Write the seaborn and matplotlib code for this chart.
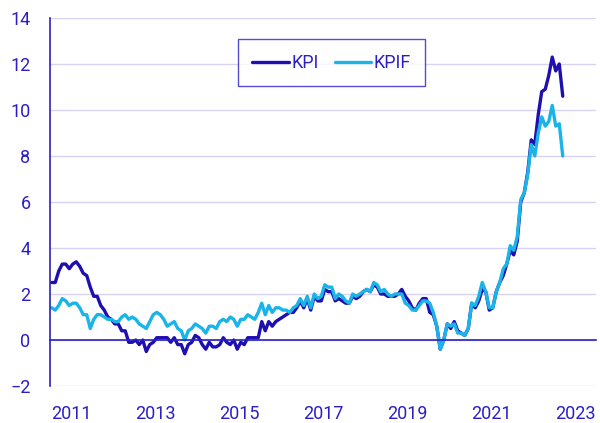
import numpy as np
import pandas as pd
import seaborn as sns
import matplotlib.pyplot as plt
from matplotlib.ticker import FixedLocator

sns.set_style('white')
plt.rcParams['font.family'] = ['Roboto', 'DejaVu Sans']

# Monthly annual change (%), Jan 2011 - Mar 2023
kpi = [2.5, 2.5, 3.0, 3.3, 3.3, 3.1, 3.3, 3.4, 3.2, 2.9, 2.8, 2.3,
       1.9, 1.9, 1.5, 1.3, 1.0, 0.9, 0.7, 0.7, 0.4, 0.4, -0.1, -0.1,
       0.0, -0.2, 0.0, -0.5, -0.2, -0.1, 0.1, 0.1, 0.1, 0.1, -0.1, 0.1,
       -0.2, -0.2, -0.6, -0.2, -0.1, 0.2, 0.1, -0.2, -0.4, -0.1, -0.3, -0.3,
       -0.2, 0.1, -0.1, -0.2, 0.0, -0.4, -0.1, -0.2, 0.1, 0.1, 0.1, 0.1,
       0.8, 0.4, 0.8, 0.6, 0.8, 0.9, 1.0, 1.1, 1.2, 1.2, 1.4, 1.7,
       1.4, 1.8, 1.3, 1.9, 1.7, 1.7, 2.2, 2.1, 2.1, 1.7, 1.8, 1.7,
       1.6, 1.6, 1.9, 1.8, 1.9, 2.1, 2.2, 2.1, 2.4, 2.3, 2.0, 2.0,
       1.9, 1.9, 1.9, 2.0, 2.2, 1.9, 1.7, 1.4, 1.3, 1.6, 1.8, 1.8,
       1.2, 1.1, 0.6, -0.4, 0.0, 0.7, 0.5, 0.8, 0.4, 0.3, 0.2, 0.5,
       1.6, 1.4, 1.7, 2.2, 2.1, 1.3, 1.4, 2.1, 2.5, 2.8, 3.3, 3.9,
       3.7, 4.3, 6.0, 6.4, 7.3, 8.7, 8.5, 9.8, 10.8, 10.9, 11.5, 12.3,
       11.7, 12.0, 10.6]

kpif = [1.4, 1.3, 1.5, 1.8, 1.7, 1.5, 1.6, 1.6, 1.4, 1.1, 1.1, 0.5,
        0.9, 1.1, 1.1, 1.0, 0.9, 0.9, 0.8, 0.8, 1.0, 1.1, 0.9, 1.0,
        0.9, 0.7, 0.6, 0.5, 0.8, 1.1, 1.2, 1.1, 0.9, 0.6, 0.7, 0.8,
        0.5, 0.4, 0.0, 0.4, 0.5, 0.7, 0.6, 0.5, 0.3, 0.6, 0.6, 0.5,
        0.8, 0.9, 0.8, 1.0, 0.9, 0.6, 0.9, 0.9, 1.1, 1.0, 0.9, 1.2,
        1.6, 1.1, 1.5, 1.2, 1.4, 1.4, 1.3, 1.3, 1.2, 1.4, 1.5, 1.8,
        1.5, 1.9, 1.4, 2.0, 1.8, 1.9, 2.4, 2.3, 2.3, 1.8, 2.0, 1.9,
        1.7, 1.6, 2.0, 1.9, 2.0, 2.1, 2.2, 2.1, 2.5, 2.4, 2.1, 2.2,
        2.0, 1.9, 2.0, 2.0, 2.0, 1.6, 1.5, 1.3, 1.3, 1.5, 1.7, 1.7,
        1.6, 1.2, 0.6, -0.4, 0.0, 0.7, 0.6, 0.7, 0.3, 0.3, 0.2, 0.5,
        1.6, 1.5, 1.9, 2.5, 2.1, 1.4, 1.4, 2.1, 2.5, 3.1, 3.3, 4.1,
        3.9, 4.5, 6.1, 6.4, 7.2, 8.5, 8.0, 9.0, 9.7, 9.3, 9.5, 10.2,
        9.3, 9.4, 8.0]

years = [str(y) for y in range(2011, 2024, 2)]

dark = '#2b1fc4'
c_kpi = '#1f0fb0'
c_kpif = '#1ab4e8'
grid_c = '#d6d4f2'

n = len(kpi)
month = np.arange(n) + 0.5
df = pd.DataFrame({
    'month': np.concatenate([month, month]),
    'value': kpi + kpif,
    'series': ['KPI'] * n + ['KPIF'] * n,
})

fig = plt.figure(figsize=(6, 4.23), dpi=100)
ax = fig.add_axes([50 / 600, 1 - 386 / 423, 546 / 600, 368 / 423])

sns.lineplot(data=df, x='month', y='value', hue='series',
             palette={'KPI': c_kpi, 'KPIF': c_kpif}, linewidth=2.4, ax=ax)

ax.set_xlim(0, 156)
ax.set_ylim(-2, 14)
ax.set_yticks(range(-2, 15, 2))
ax.grid(axis='y', color=grid_c, linewidth=1)
ax.set_axisbelow(True)

for s in ['top', 'right']:
    ax.spines[s].set_visible(False)
ax.spines['left'].set_color(dark)
ax.spines['left'].set_linewidth(1.2)
ax.spines['bottom'].set_position(('data', 0))
ax.spines['bottom'].set_color(dark)
ax.spines['bottom'].set_linewidth(1.2)

ax.xaxis.set_major_locator(FixedLocator(np.arange(0, 157, 12)))
ax.xaxis.set_minor_locator(FixedLocator(np.arange(6, 157, 24)))
ax.set_xticklabels([])
ax.set_xticklabels(years, minor=True)
ax.tick_params(axis='x', which='major', length=5.5, width=1.2, color=dark, direction='out')
ax.tick_params(axis='x', which='minor', length=0, pad=47, labelsize=13, labelcolor=dark)
ax.tick_params(axis='y', length=5, width=1.2, color=dark, pad=9, labelsize=13, labelcolor=dark)

ax.set_xlabel('')
ax.set_ylabel('')

leg = ax.legend(loc='center', bbox_to_anchor=(0.516, 0.878), ncol=2, fontsize=13,
                frameon=True, fancybox=False, handlelength=2.0, handletextpad=0.15,
                columnspacing=0.9, borderpad=0.8, borderaxespad=0)
leg.get_frame().set_edgecolor(dark)
leg.get_frame().set_linewidth(1.0)
for t in leg.get_texts():
    t.set_color(dark)
for l in leg.get_lines():
    l.set_linewidth(2.4)

fig.savefig('out.png', dpi=100)
